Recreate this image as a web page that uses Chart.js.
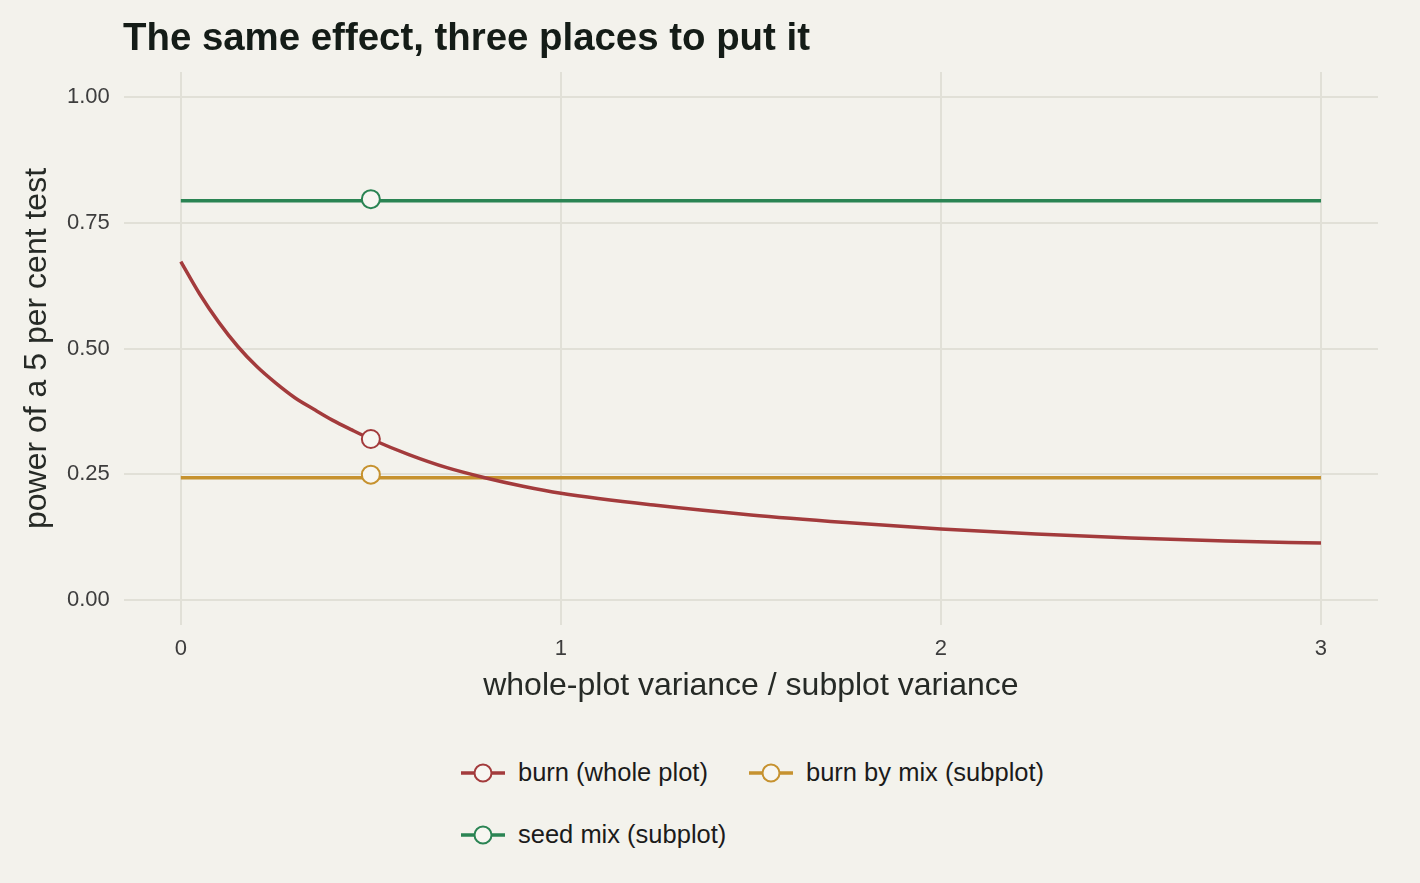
<!DOCTYPE html>
<html>
<head>
<meta charset="utf-8">
<script src="https://cdn.jsdelivr.net/npm/chart.js@4/dist/chart.umd.min.js"></script>
<style>
  body { margin: 0; background: #f3f2ec; font-family: "Liberation Sans", Arial, sans-serif; }
  #wrap { position: relative; width: 1420px; height: 883px; }
  #chartBox { position: absolute; left: 0; top: 0; width: 1420px; height: 702px; }
  .legend { position: absolute; left: 460px; top: 758px; font-size: 25.5px; color: #1b1b1b; }
  .item { position: absolute; display: flex; align-items: center; white-space: nowrap; }
  .item svg { margin-right: 12px; }
</style>
</head>
<body>
<div id="wrap">
  <div id="chartBox"><canvas id="powerChart"></canvas></div>
  <div class="legend" id="legend"></div>
</div>
<script>
// variance ratio (whole-plot / subplot) and power
const ratio = [0, 0.05, 0.1, 0.15, 0.2, 0.25, 0.3, 0.35, 0.4, 0.45, 0.5, 0.6, 0.7, 0.8, 0.9, 1.0, 1.25, 1.5, 1.75, 2.0, 2.25, 2.5, 2.75, 3.0];
const burnPower = [0.673, 0.608, 0.552, 0.504, 0.464, 0.431, 0.402, 0.379, 0.357, 0.338, 0.320, 0.289, 0.263, 0.243, 0.226, 0.212, 0.188, 0.169, 0.154, 0.141, 0.131, 0.123, 0.117, 0.113];

// the two subplot tests don't depend on the ratio
const flatRatio = [0, 3];
const burnByMixPower = [0.243, 0.243];
const seedMixPower = [0.794, 0.794];

// highlighted design point
const markerRatio = 0.5;
const markerPower = [0.320, 0.249, 0.797];

const seriesNames = ['burn (whole plot)', 'burn by mix (subplot)', 'seed mix (subplot)'];
const seriesColors = ['#a33b3c', '#c6922f', '#2a8453'];

const xTicks = [0, 1, 2, 3];
const yTicks = [0, 0.25, 0.5, 0.75, 1.0];

const bg = '#f3f2ec';
const gridColor = '#e1e0d7';
const fontFamily = '"Liberation Sans", Arial, sans-serif';

function pairs(xs, ys) {
  return xs.map((x, i) => ({ x: x, y: ys[i] }));
}

const lineSeries = [pairs(ratio, burnPower), pairs(flatRatio, burnByMixPower), pairs(flatRatio, seedMixPower)];

const datasets = [];
lineSeries.forEach((pts, i) => {
  datasets.push({
    label: seriesNames[i],
    data: pts,
    showLine: true,
    borderColor: seriesColors[i],
    borderWidth: 3.5,
    pointRadius: 0,
    cubicInterpolationMode: 'monotone',
    order: [2, 3, 4][i]
  });
});
markerPower.forEach((p, i) => {
  datasets.push({
    label: seriesNames[i] + ' marker',
    data: [{ x: markerRatio, y: p }],
    showLine: false,
    pointRadius: 9,
    pointBorderWidth: 2,
    pointBorderColor: seriesColors[i],
    pointBackgroundColor: '#f7f6f1',
    order: 0
  });
});

const titlePlugin = {
  id: 'leftTitle',
  afterDraw(chart) {
    const ctx = chart.ctx;
    ctx.save();
    ctx.font = 'bold 38.4px ' + fontFamily;
    ctx.fillStyle = '#141c17';
    ctx.textBaseline = 'alphabetic';
    ctx.fillText('The same effect, three places to put it', 123, 50);
    ctx.restore();
  }
};

const bgPlugin = {
  id: 'bg',
  beforeDraw(chart) {
    const ctx = chart.ctx;
    ctx.save();
    ctx.fillStyle = bg;
    ctx.fillRect(0, 0, chart.width, chart.height);
    ctx.restore();
  }
};

new Chart(document.getElementById('powerChart'), {
  type: 'scatter',
  data: { datasets: datasets },
  options: {
    responsive: true,
    maintainAspectRatio: false,
    animation: false,
    layout: { padding: { top: 72, right: 42, left: 6, bottom: 0 } },
    plugins: {
      legend: { display: false },
      tooltip: { enabled: false }
    },
    scales: {
      x: {
        min: -0.15,
        max: 3.15,
        afterBuildTicks: axis => { axis.ticks = xTicks.map(v => ({ value: v })); },
        grid: { color: gridColor, lineWidth: 2, drawTicks: false },
        border: { display: false },
        ticks: {
          color: '#3d3d3d',
          font: { size: 22, family: fontFamily, lineHeight: 1 },
          padding: 13,
          maxRotation: 0
        },
        title: {
          display: true,
          text: 'whole-plot variance / subplot variance',
          color: '#262a26',
          font: { size: 32, family: fontFamily, lineHeight: 1 },
          padding: { top: -3, bottom: 0 }
        }
      },
      y: {
        min: -0.05,
        max: 1.05,
        afterBuildTicks: axis => { axis.ticks = yTicks.map(v => ({ value: v })); },
        grid: { color: gridColor, lineWidth: 2, drawTicks: false },
        border: { display: false },
        ticks: {
          color: '#3d3d3d',
          font: { size: 22, family: fontFamily },
          padding: 14,
          callback: v => v.toFixed(2)
        },
        title: {
          display: true,
          text: 'power of a 5 per cent test',
          color: '#262a26',
          font: { size: 32, family: fontFamily, lineHeight: 1 },
          padding: { top: 15, bottom: 0 }
        }
      }
    }
  },
  plugins: [bgPlugin, titlePlugin]
});

// legend: two columns, wraps to a second row
const legendPos = [[0, 0], [288, 0], [0, 62]];
const legendEl = document.getElementById('legend');
seriesNames.forEach((name, i) => {
  const c = seriesColors[i];
  const item = document.createElement('div');
  item.className = 'item';
  item.style.left = legendPos[i][0] + 'px';
  item.style.top = legendPos[i][1] + 'px';
  item.innerHTML =
    '<svg width="46" height="22"><line x1="1" y1="11" x2="45" y2="11" stroke="' + c + '" stroke-width="3.5"/>' +
    '<circle cx="23" cy="11" r="8.5" fill="#f7f6f1" stroke="' + c + '" stroke-width="2"/></svg>' +
    '<span>' + name + '</span>';
  legendEl.appendChild(item);
});
</script>
</body>
</html>
